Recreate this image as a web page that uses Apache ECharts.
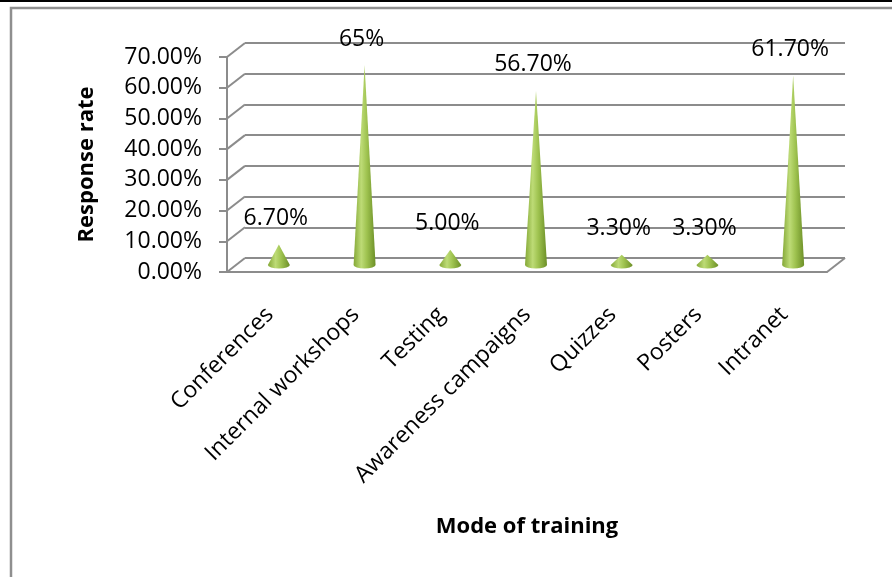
<!DOCTYPE html>
<html>
<head>
<meta charset="utf-8">
<title>Mode of training</title>
<script src="https://cdn.jsdelivr.net/npm/echarts@6/dist/echarts.min.js"></script>
<style>
  html, body { margin: 0; padding: 0; background: #fff; }
  #chart { width: 892px; height: 577px; }
</style>
</head>
<body>
<div id="chart"></div>
<script>
// ---- data ----
const categories = ['Conferences', 'Internal workshops', 'Testing', 'Awareness campaigns', 'Quizzes', 'Posters', 'Intranet'];
const responseRates = [0.067, 0.65, 0.05, 0.567, 0.033, 0.033, 0.617];
const valueLabels = ['6.70%', '65%', '5.00%', '56.70%', '3.30%', '3.30%', '61.70%'];
const yTickValues = [0, 0.1, 0.2, 0.3, 0.4, 0.5, 0.6, 0.7];
const yTickLabels = ['0.00%', '10.00%', '20.00%', '30.00%', '40.00%', '50.00%', '60.00%', '70.00%'];

// ---- styling ----
const FONT = '"Open Sans", "Noto Sans", sans-serif';
const GRID_GRAY = '#8c8c8c';
const DEPTH_X = 18;   // back wall sits this far right of the front plane
const DEPTH_Y = -14;  // ...and this far up

const chart = echarts.init(document.getElementById('chart'), null, { renderer: 'canvas' });

const coneFill = new echarts.graphic.LinearGradient(0, 0, 1, 0, [
  { offset: 0, color: '#84a836' },
  { offset: 0.35, color: '#bddb76' },
  { offset: 0.6, color: '#9fc350' },
  { offset: 1, color: '#6c8f27' }
]);

function renderCone(params, api) {
  const i = api.value(0);
  const v = api.value(1);
  const base = api.coord([i, 0]);
  const tip = api.coord([i, v]);
  const hw = 11, ry = 3.5;
  const x0 = base[0] - hw, x1 = base[0] + hw, yb = base[1];
  const d = 'M' + x0 + ' ' + yb + ' L' + tip[0] + ' ' + tip[1] + ' L' + x1 + ' ' + yb +
            ' A' + hw + ' ' + ry + ' 0 0 1 ' + x0 + ' ' + yb + ' Z';
  return {
    type: 'group',
    children: [
      {
        type: 'path',
        shape: { pathData: d, x: x0, y: tip[1], width: 2 * hw, height: yb + ry - tip[1], layout: 'cover' },
        style: { fill: coneFill }
      },
      {
        type: 'text',
        x: tip[0] - 3,
        y: tip[1] - 26,
        style: {
          text: valueLabels[i], fill: '#000', font: '23px ' + FONT,
          align: 'center', verticalAlign: 'middle'
        }
      }
    ]
  };
}

// depth lines joining the front value axis to the back wall, plus the floor's right edge
function renderDepth(params, api) {
  const v = api.value(0);
  const cs = params.coordSys;
  const y = api.coord([0, v])[1];
  const children = [{
    type: 'line',
    shape: { x1: cs.x, y1: y, x2: cs.x + DEPTH_X, y2: y + DEPTH_Y },
    style: { stroke: GRID_GRAY, lineWidth: 2 }
  }];
  if (v === 0) {
    children.push({
      type: 'line',
      shape: { x1: cs.x + cs.width, y1: y, x2: cs.x + cs.width + DEPTH_X, y2: y + DEPTH_Y },
      style: { stroke: GRID_GRAY, lineWidth: 2 }
    });
  }
  return { type: 'group', children: children };
}

const option = {
  animation: false,
  backgroundColor: '#fff',
  graphic: [
    { type: 'rect', z: -10, shape: { x: 11, y: 8, width: 1000, height: 1000 },
      style: { fill: null, stroke: '#8f8f8f', lineWidth: 2.5 } },
    { type: 'line', z: -10, shape: { x1: 0, y1: 1, x2: 892, y2: 1 },
      style: { stroke: '#000', lineWidth: 2 } }
  ],
  grid: [
    { left: 245, right: 47, top: 43, bottom: 319 },   // back wall
    { left: 227, right: 65, top: 57, bottom: 305 },   // front plane
    { left: 236, right: 56, top: 50, bottom: 312 }    // mid depth, where the cones stand
  ],
  xAxis: [
    { gridIndex: 0, type: 'category', data: categories, show: false },
    {
      gridIndex: 1, type: 'category', data: categories,
      axisLine: { show: true, lineStyle: { color: GRID_GRAY, width: 2 } },
      axisTick: { show: false },
      axisLabel: { interval: 0, rotate: 45, margin: 39, fontFamily: FONT, fontSize: 23, color: '#000' },
      name: 'Mode of training', nameLocation: 'middle', nameGap: 244,
      nameTextStyle: { fontFamily: FONT, fontSize: 22, fontWeight: 'bold', color: '#000' }
    },
    { gridIndex: 2, type: 'category', data: categories, show: false }
  ],
  yAxis: [
    {
      gridIndex: 0, type: 'value', min: 0, max: 0.7, interval: 0.1,
      axisLine: { show: false }, axisTick: { show: false }, axisLabel: { show: false },
      splitLine: { show: true, lineStyle: { color: GRID_GRAY, width: 2 } }
    },
    {
      gridIndex: 1, type: 'value', min: 0, max: 0.7, interval: 0.1,
      axisLine: { show: true, lineStyle: { color: GRID_GRAY, width: 2 } },
      axisTick: { show: true, length: 8, lineStyle: { color: GRID_GRAY, width: 2 } },
      splitLine: { show: false },
      axisLabel: {
        margin: 25, fontFamily: FONT, fontSize: 23, color: '#000', padding: [6, 0, 0, 0],
        formatter: function (v) { return yTickLabels[Math.round(v * 10)]; }
      },
      name: 'Response rate', nameLocation: 'middle', nameGap: 129,
      nameTextStyle: { fontFamily: FONT, fontSize: 22, fontWeight: 'bold', color: '#000' }
    },
    { gridIndex: 2, type: 'value', min: 0, max: 0.7, interval: 0.1, show: false }
  ],
  series: [
    {
      type: 'custom', xAxisIndex: 1, yAxisIndex: 1, silent: true,
      data: yTickValues.map(function (v) { return [v]; }),
      encode: { y: 0 },
      renderItem: renderDepth
    },
    {
      type: 'custom', xAxisIndex: 2, yAxisIndex: 2, silent: true, z: 5,
      data: responseRates.map(function (v, i) { return [i, v]; }),
      encode: { x: 0, y: 1 },
      renderItem: renderCone
    }
  ]
};

chart.setOption(option);
</script>
</body>
</html>
